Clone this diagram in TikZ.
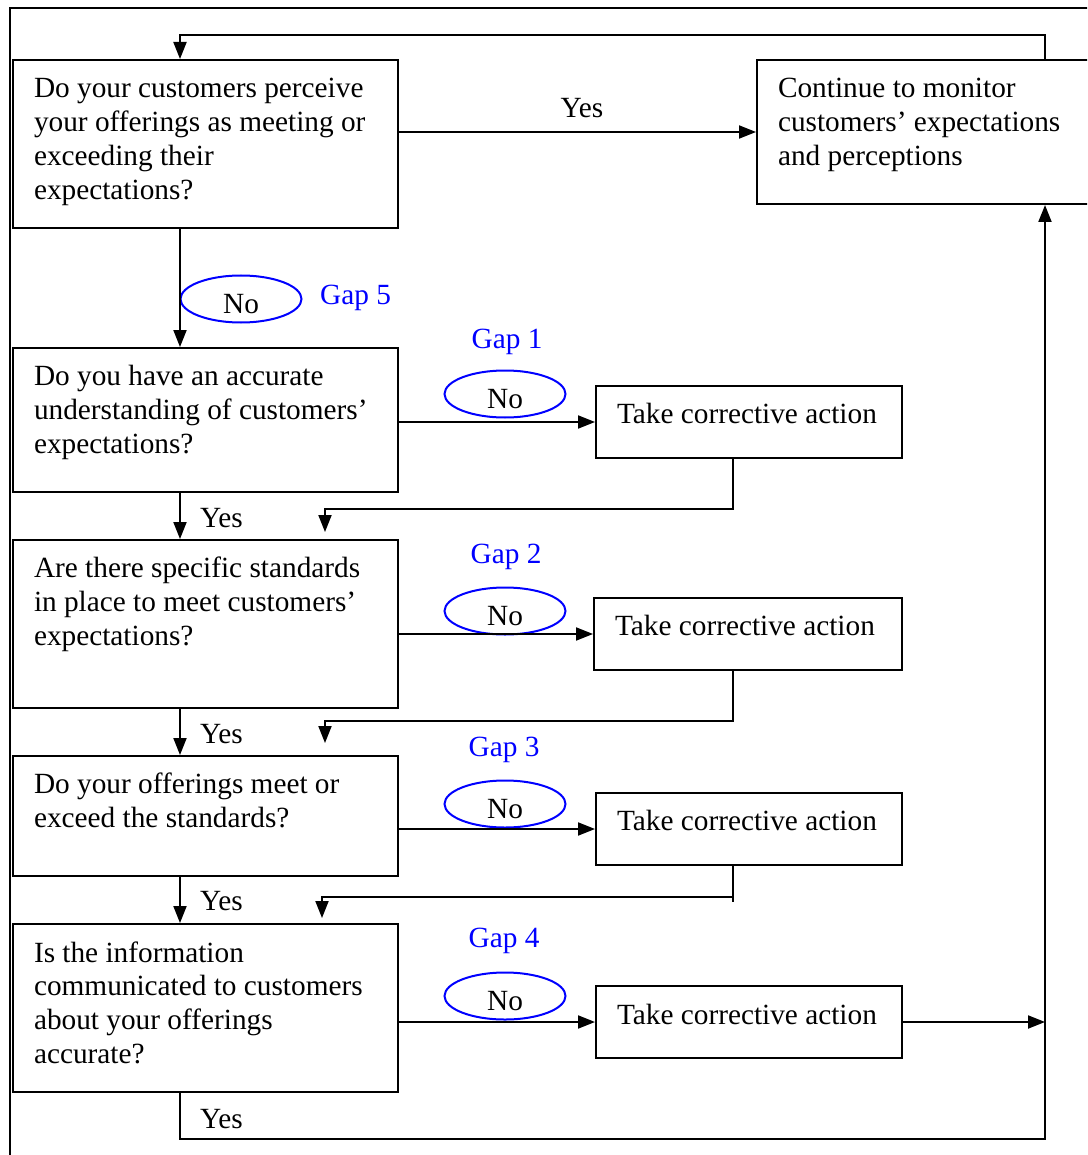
\documentclass[tikz,border=0pt]{standalone}
\usepackage{fontspec}
\setmainfont{Liberation Serif}
\usetikzlibrary{arrows.meta,shapes.geometric,calc}

% body font of the chart
\newcommand\dfont{\fontsize{29.3pt}{33.7pt}\selectfont}
% box contents: height, width, space above first line, text (top-left aligned)
\newcommand\boxtext[4]{%
  \vbox to #1{\vskip#3\hbox to #2{\hskip21pt\parbox[t]{\dimexpr#2-22pt\relax}{\raggedright\strut#4}\hss}\vfill}}

\begin{document}
\begin{tikzpicture}[x=1pt,y=-1pt,
  conn/.style={line width=2pt},
  arr/.style={conn,-{Triangle[length=17pt,width=13pt]}},
  qbox/.style={draw,line width=2pt,inner sep=0pt,anchor=north west,font=\dfont},
  nolabel/.style={draw=blue,line width=2pt,ellipse,minimum width=121pt,minimum height=47pt,
                  inner sep=0pt,text height=28pt,text depth=0pt,font=\dfont},
  gaplabel/.style={text=blue,font=\dfont,inner sep=0pt,anchor=base},
  yeslabel/.style={font=\dfont,inner sep=0pt,anchor=base west}]

\useasboundingbox (0,0) rectangle (1087,1155);
\clip (0,0) rectangle (1087,1155);
\fill[white] (0,0) rectangle (1087,1155);

% outer frame
\draw[line width=2pt] (10,1170) -- (10,8) -- (1100,8);

% guide columns for the connectors
\coordinate (xl) at (180,0);
\coordinate (xr) at (1045,0);
\coordinate (rx) at (733,0);

% question boxes
\node[qbox] (q0) at (12,59) {\boxtext{168pt}{385pt}{14.4pt}{Do your customers perceive\\your offerings as meeting or\\exceeding their\\expectations?}};
\node[qbox] (q1) at (12,347) {\boxtext{144pt}{385pt}{14.4pt}{Do you have an accurate\\understanding of customers’\\expectations?}};
\node[qbox] (q2) at (12,539) {\boxtext{168pt}{385pt}{14.4pt}{Are there specific standards\\in place to meet customers’\\expectations?}};
\node[qbox] (q3) at (12,755) {\boxtext{120pt}{385pt}{14.4pt}{Do your offerings meet or\\exceed the standards?}};
\node[qbox] (q4) at (12,923) {\boxtext{168pt}{385pt}{14.4pt}{Is the information\\communicated to customers\\about your offerings\\accurate?}};

% monitoring box
\node[qbox] (cont) at (756,59) {\boxtext{144pt}{345pt}{14.4pt}{Continue to monitor\\customers’ expectations\\and perceptions}};

% corrective action boxes
\node[qbox] (a1) at (595,385) {\boxtext{72pt}{306pt}{14.4pt}{Take corrective action}};
\node[qbox] (a2) at (593,597) {\boxtext{72pt}{308pt}{14.4pt}{Take corrective action}};
\node[qbox] (a3) at (595,792) {\boxtext{72pt}{306pt}{14.4pt}{Take corrective action}};
\node[qbox] (a4) at (595,985) {\boxtext{72pt}{306pt}{14.4pt}{Take corrective action}};

% "No" ellipses and gap labels
\node[nolabel] (n5) at (241,299) {No};
\node[nolabel] (n1) at (505,394) {No};
\node[nolabel] (n2) at (505,611) {No};
\node[nolabel] (n3) at (505,804) {No};
\node[nolabel] (n4) at (505,996) {No};

\node[gaplabel,anchor=base west] (g5) at (320,305) {Gap 5};
\node[gaplabel] (g1) at (507,348) {Gap 1};
\node[gaplabel] (g2) at (506,563) {Gap 2};
\node[gaplabel] (g3) at (504,756) {Gap 3};
\node[gaplabel] (g4) at (504,947) {Gap 4};

% "Yes" labels
\node[font=\dfont,inner sep=0pt,anchor=base] (y0) at (582,118) {Yes};
\node[yeslabel] (y1) at (200,527) {Yes};
\node[yeslabel] (y2) at (200,743) {Yes};
\node[yeslabel] (y3) at (200,910) {Yes};
\node[yeslabel] (y4) at (200,1128) {Yes};

% main flow
\draw[arr] (q0.east |- cont.west) -- (cont.west);
\draw[arr] (q0.south -| xl) -- (q1.north -| xl);
\draw[arr] (q1.south -| xl) -- (q2.north -| xl);
\draw[arr] (q2.south -| xl) -- (q3.north -| xl);
\draw[arr] (q3.south -| xl) -- (q4.north -| xl);

% loop back from monitoring to the first question
\draw[arr] (cont.north -| xr) |- (180,35) -- (q0.north -| xl);

% "No" branches to corrective actions
\draw[arr] (q1.east |- a1.west) -- (a1.west);
\draw[arr] (q2.east |- a2.west) -- (a2.west);
\draw[arr] (q3.east |- a3.west) -- (a3.west);
\draw[arr] (q4.east |- a4.west) -- (a4.west);

% corrective actions return into the flow
\coordinate (t1) at (325,532);
\coordinate (t2) at (325,743);
\coordinate (t3) at (322,918);
\draw[arr] (a1.south -| rx) -- ++(0,50) -| (t1);
\draw[arr] (a2.south -| rx) -- ++(0,50) -| (t2);
\draw[conn] (a3.south -| rx) -- ++(0,36);
\draw[arr] ($(a3.south -| rx)+(0,31)$) -| (t3);

% last action and final "Yes" lead back to monitoring
\coordinate (bot) at (1045,1139);
\draw[arr] (a4.east) -- (a4.east -| xr);
\draw[arr] (q4.south -| xl) |- (bot) -- (cont.south -| xr);

\end{tikzpicture}
\end{document}
